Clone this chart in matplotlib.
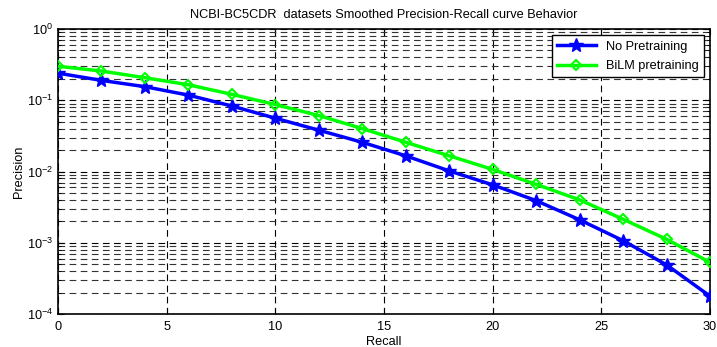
import matplotlib
matplotlib.use("Agg")
import matplotlib.pyplot as plt
import numpy as np
from matplotlib.ticker import LogLocator, FixedLocator, NullFormatter

plt.rcParams['font.family'] = ['Liberation Sans', 'DejaVu Sans']
plt.rcParams['mathtext.fontset'] = 'custom'
plt.rcParams['mathtext.rm'] = 'Liberation Sans'

recall = [0, 2, 4, 6, 8, 10, 12, 14, 16, 18, 20, 22, 24, 26, 28, 30]
no_pretraining = [0.24, 0.19, 0.155, 0.118, 0.083, 0.056, 0.038, 0.0257, 0.0166,
                  0.0102, 0.0065, 0.0039, 0.0021, 0.00107, 0.00049, 0.000178]
bilm_pretraining = [0.30, 0.257, 0.207, 0.165, 0.121, 0.087, 0.061, 0.040, 0.0257,
                    0.0166, 0.0107, 0.0066, 0.0040, 0.00214, 0.00112, 0.00053]
x_ticks = [0, 5, 10, 15, 20, 25, 30]

FS = 9.2

fig = plt.figure(figsize=(7.17, 3.47), dpi=100)
ax = fig.add_axes([58/717, 1 - 314/347, (710-58)/717, (314-29)/347])

ax.semilogy(recall, no_pretraining, color='#0000ff', lw=2.5, marker='*',
            markersize=10, label='No Pretraining', zorder=3)
ax.semilogy(recall, bilm_pretraining, color='#00ff00', lw=2.5, marker='D',
            markersize=5.5, markerfacecolor='none', markeredgewidth=1.5,
            label='BiLM pretraining', zorder=3)

ax.set_xlim(0, 30)
ax.set_ylim(1e-4, 1)
ax.xaxis.set_major_locator(FixedLocator(x_ticks))
ax.yaxis.set_major_locator(LogLocator(base=10, numticks=10))
ax.yaxis.set_minor_locator(LogLocator(base=10, subs=np.arange(2, 10), numticks=20))
ax.yaxis.set_minor_formatter(NullFormatter())

ax.grid(True, which='major', axis='both', color='black', linestyle=(0, (6, 4)), lw=0.8)
ax.grid(True, which='minor', axis='y', color='#333333', linestyle=(0, (6, 4)), lw=0.8)

ax.tick_params(axis='both', which='both', direction='in', top=True, right=True,
               labelsize=FS)
ax.tick_params(axis='x', which='major', pad=5)
ax.tick_params(which='major', length=4)
ax.tick_params(which='minor', length=2)
for s in ax.spines.values():
    s.set_linewidth(1.2)

ax.set_title('NCBI-BC5CDR  datasets Smoothed Precision-Recall curve Behavior',
             fontsize=FS, pad=8)
ax.set_xlabel('Recall', fontsize=FS, labelpad=2)
ax.set_ylabel('Precision', fontsize=FS, labelpad=1)

leg = ax.legend(loc='upper right', fontsize=FS, fancybox=False, framealpha=1,
                edgecolor='black', borderaxespad=0.5, handlelength=3,
                labelspacing=0.6)
leg.get_frame().set_linewidth(1.0)

fig.savefig('out.png', dpi=100)
